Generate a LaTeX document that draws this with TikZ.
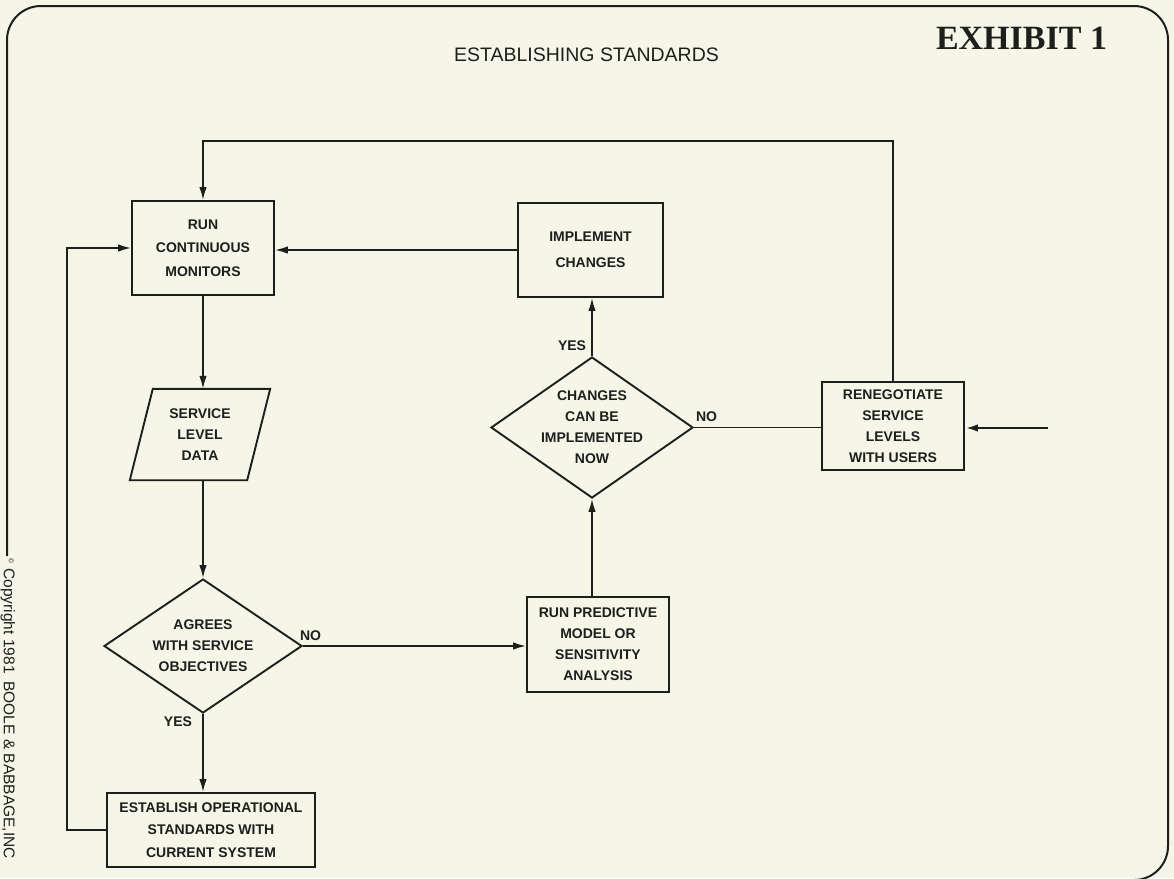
\documentclass[tikz,border=0pt]{standalone}
\usepackage{fontspec}
\setmainfont{Liberation Sans}
\newfontfamily\exhibitfont{Liberation Serif}
\usetikzlibrary{shapes.geometric,arrows.meta,calc}
\definecolor{paper}{RGB}{246,246,232}
\definecolor{ink}{RGB}{30,30,28}
\begin{document}
\begin{tikzpicture}[x=1pt,y=-1pt,
  every node/.style={inner sep=0pt, text=ink},
  box/.style={draw=ink, line width=1.9pt, rectangle, align=center,
    font=\fontsize{14}{21}\selectfont\bfseries},
  dia/.style={draw=ink, line width=1.9pt, diamond},
  boxtext/.style={align=center, font=\fontsize{14}{21}\selectfont\bfseries},
  flow/.style={draw=ink, line width=1.7pt, -{Latex[length=13pt,width=7.5pt]}},
  link/.style={draw=ink, line width=1.8pt},
  tag/.style={font=\fontsize{14}{16}\selectfont\bfseries}]

% page and frame
\fill[paper] (0,0) rectangle (1174,878);
\useasboundingbox (0,0) rectangle (1174,878);
\draw[ink, line width=2pt, rounded corners=34pt]
  (7,556) -- (7,6) -- (1168,6) -- (1168,880) -- (1090,880);

% headings
\node[font=\fontsize{19.5}{22}\selectfont] (title) at (586.5,55) {ESTABLISHING STANDARDS};
\node[font=\exhibitfont\bfseries\fontsize{34}{36}\selectfont] (exhibit) at (1021.5,38) {EXHIBIT 1};
\node[rotate=-90, anchor=west, font=\fontsize{15.5}{17}\selectfont] (copy) at (8,558)
  {{\fontsize{7}{8}\selectfont\raisebox{5pt}{\textcopyright}}\,\,Copyright 1981\enspace BOOLE \& BABBAGE,INC};

% process boxes
\node[box, minimum width=142pt, minimum height=94pt, font=\fontsize{14}{23.5}\selectfont\bfseries]
  (run) at (203,248) {RUN\\CONTINUOUS\\MONITORS};
\node[box, minimum width=145pt, minimum height=94pt, font=\fontsize{14}{26}\selectfont\bfseries]
  (impl) at (590.5,250) {IMPLEMENT\\CHANGES};
\node[box, minimum width=142pt, minimum height=88pt]
  (reneg) at (893,426) {RENEGOTIATE\\SERVICE\\LEVELS\\WITH USERS};
\node[box, minimum width=142pt, minimum height=95pt]
  (pred) at (598,644.5) {RUN PREDICTIVE\\MODEL OR\\SENSITIVITY\\ANALYSIS};
\node[box, minimum width=208pt, minimum height=74pt, font=\fontsize{14}{22.5}\selectfont\bfseries]
  (estab) at (211,830) {ESTABLISH OPERATIONAL\\STANDARDS WITH\\CURRENT SYSTEM};

% input / output: slanted data symbol
\node[boxtext, minimum width=117pt, minimum height=91pt] (data) at (200,434.5) {SERVICE\\LEVEL\\DATA};
\draw[ink, line width=1.9pt]
  ($(data.north west)+(11.5,0)$) -- ($(data.north east)+(11.5,0)$) --
  ($(data.south east)+(-11.5,0)$) -- ($(data.south west)+(-11.5,0)$) -- cycle;

% decisions
\node[dia, minimum width=198pt, minimum height=134pt] (agree) at (203,646) {};
\node[boxtext] (agreetext) at (agree) {AGREES\\WITH SERVICE\\OBJECTIVES};
\node[dia, minimum width=202pt, minimum height=141pt] (chg) at (592,427.5) {};
\node[boxtext] (chgtext) at (chg) {CHANGES\\CAN BE\\IMPLEMENTED\\NOW};

% branch labels
\node[tag] (noA) at (310.5,636) {NO};
\node[tag] (yesA) at (178,722) {YES};
\node[tag] (yesC) at (572,346) {YES};
\node[tag] (noC) at (706.5,417) {NO};

% connectors
\coordinate (topturn) at (203,141);
\coordinate (loopx) at (67,0);
\coordinate (feed) at (1048,428);
\draw[flow] (reneg.north) |- (topturn) -- (run.north);
\draw[flow] (impl.west) -- (impl.west -| run.east);
\draw[flow] (estab.west) -- (estab.west -| loopx) |- (run.west);
\draw[flow] (run.south) -- (run.south |- data.north);
\draw[flow] (run.south |- data.south) -- (agree.north);
\draw[flow] (agree.south) -- (agree.south |- estab.north);
\draw[flow] (agree.east) -- (agree.east -| pred.west);
\draw[flow] (pred.north -| chg.south) -- (chg.south);
\draw[flow] (chg.north) -- (chg.north |- impl.south);
\draw[link] (chg.east) -- (chg.east -| reneg.west);
\draw[flow, line width=2.6pt] (feed) -- (feed -| reneg.east);
\end{tikzpicture}
\end{document}
